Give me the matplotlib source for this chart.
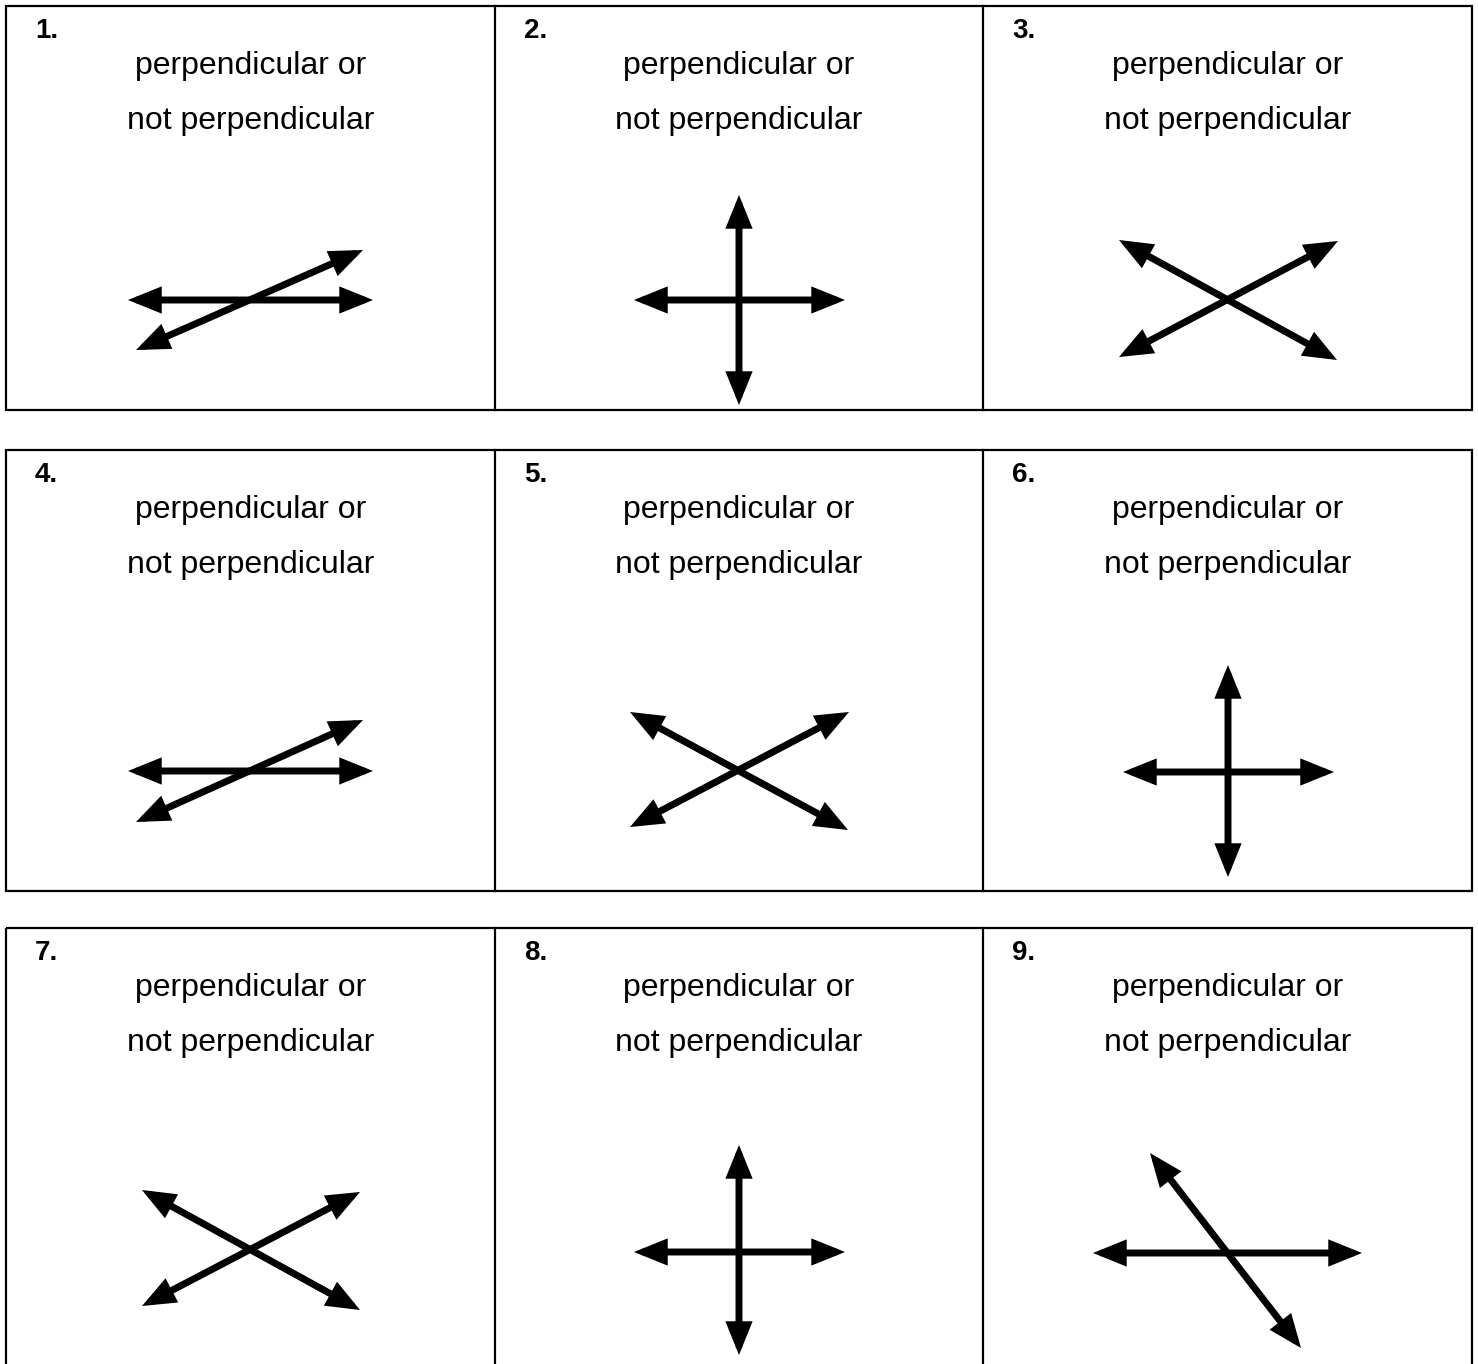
import matplotlib.pyplot as plt
from matplotlib.patches import FancyArrowPatch, Rectangle

# worksheet grid (pixel units, y downwards)
col_edges = [6, 495, 983, 1472]
row_tops = [6, 450, 928]
row_bottoms = [410, 891, 1380]

labels = ['1.', '2.', '3.', '4.', '5.', '6.', '7.', '8.', '9.']
line1 = 'perpendicular or'
line2 = 'not perpendicular'

# each panel: list of double-headed lines (x0, y0, x1, y1)
panel_lines = [
    [(128, 300, 373, 300), (136, 350, 363, 250)],
    [(739, 195, 739, 405), (634, 300, 845, 300)],
    [(1119, 240, 1337, 360), (1119, 357, 1338, 241)],
    [(128, 771, 373, 771), (136, 822, 363, 720)],
    [(630, 712, 848, 830), (630, 827, 849, 712)],
    [(1228, 665, 1228, 877), (1123, 772, 1334, 772)],
    [(142, 1190, 360, 1310), (142, 1306, 360, 1192)],
    [(739, 1145, 739, 1355), (634, 1252, 845, 1252)],
    [(1093, 1253, 1362, 1253), (1150, 1153, 1301, 1348)],
]

plt.rcParams['font.family'] = ['Liberation Sans', 'DejaVu Sans']

fig = plt.figure(figsize=(14.78, 13.64), dpi=100)
ax = fig.add_axes([0, 0, 1, 1])
ax.set_xlim(0, 1478)
ax.set_ylim(1364, 0)
ax.axis('off')

# boxes
for top, bot in zip(row_tops, row_bottoms):
    ax.add_patch(Rectangle((col_edges[0], top), col_edges[-1] - col_edges[0], bot - top,
                           fill=False, lw=1.6, ec='black'))
    for x in col_edges[1:-1]:
        ax.plot([x, x], [top, bot], color='black', lw=1.6)

# texts and arrows
for i, lab in enumerate(labels):
    r, c = divmod(i, 3)
    left = col_edges[c]
    cx = (col_edges[c] + col_edges[c + 1]) / 2
    top = row_tops[r]
    ax.text(left + 29, top + 25, lab, fontsize=20, fontweight='bold', ha='left', va='center')
    ax.text(cx, top + 60, line1, fontsize=23, ha='center', va='center')
    ax.text(cx, top + 115, line2, fontsize=23, ha='center', va='center')
    for x0, y0, x1, y1 in panel_lines[i]:
        arr = FancyArrowPatch((x0, y0), (x1, y1),
                              arrowstyle='<|-|>,head_length=0.42,head_width=0.17',
                              mutation_scale=36, lw=5, color='black',
                              shrinkA=0, shrinkB=0, joinstyle='miter')
        ax.add_patch(arr)

fig.savefig('out.png', dpi=100)
